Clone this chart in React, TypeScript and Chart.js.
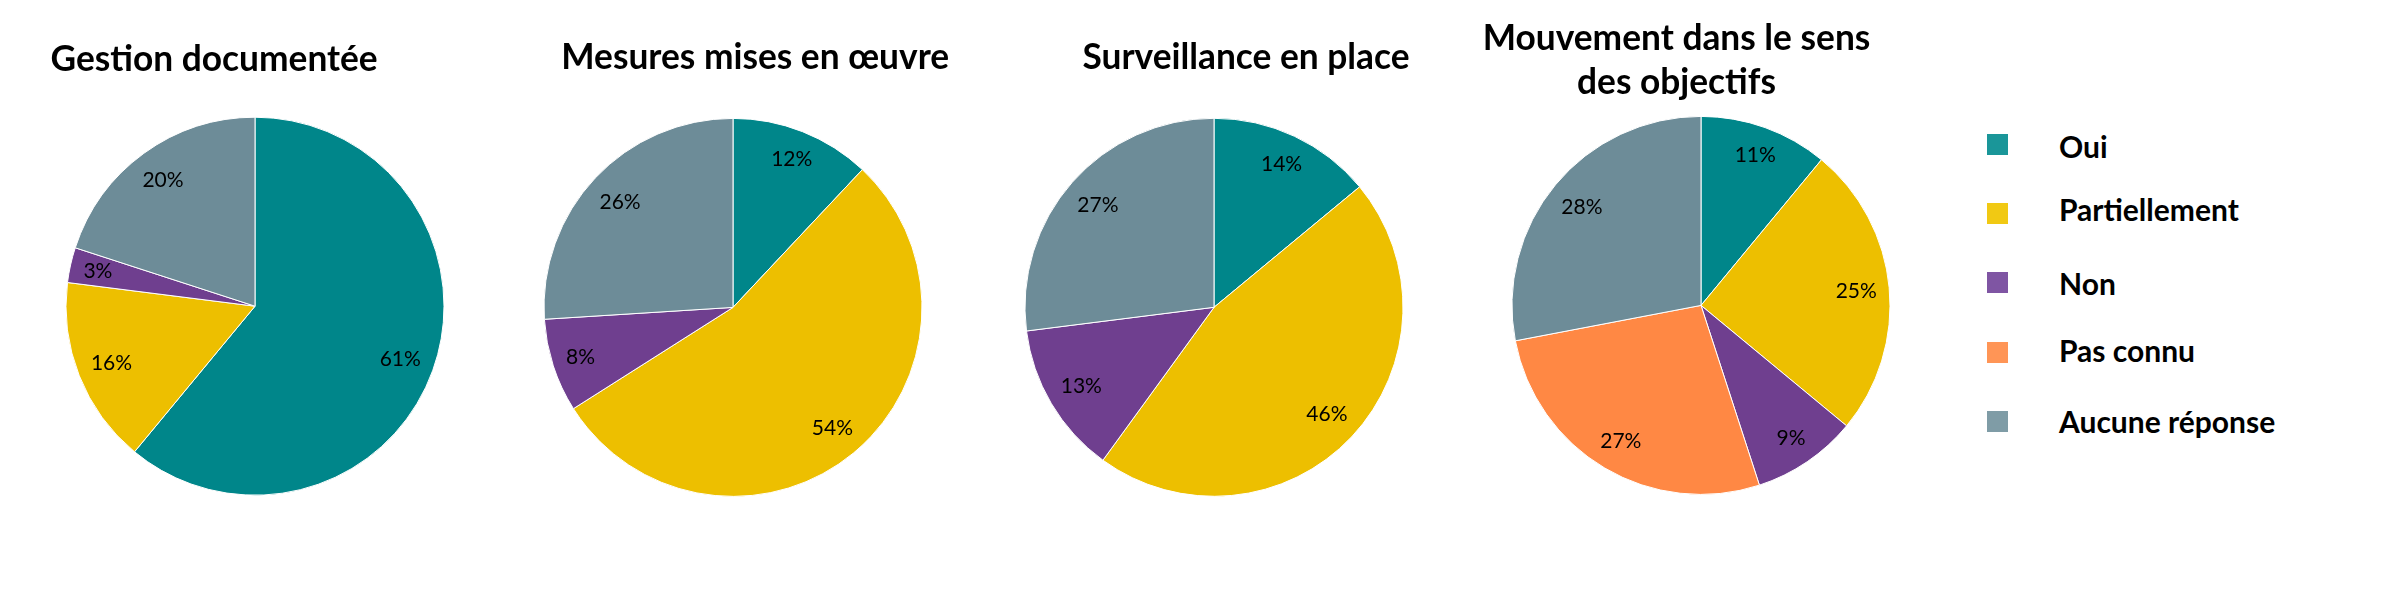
import React, { useEffect, useRef } from "react";
import { Chart, registerables } from "chart.js";

Chart.register(...registerables);

// ---- data ----
const categories = ["Oui", "Partiellement", "Non", "Pas connu", "Aucune réponse"];
const sliceColors = ["#00868A", "#EDBF00", "#6F3F8F", "#FF8844", "#6D8C98"];
const legendColors = ["#1A9699", "#F1C913", "#7F55A3", "#FF9556", "#7F9CA6"];

const gestionTitle = ["Gestion documentée"];
const mesuresTitle = ["Mesures mises en œuvre"];
const surveillanceTitle = ["Surveillance en place"];
const mouvementTitle = ["Mouvement dans le sens", "des objectifs"];

const gestionValues = [61, 16, 3, 0, 20];
const mesuresValues = [12, 54, 8, 0, 26];
const surveillanceValues = [14, 46, 13, 0, 27];
const mouvementValues = [11, 25, 9, 27, 28];

// ---- layout ----
const W = 2399;
const H = 602;
const PW = 440; // panel width
const R = 189.5; // half of chart area side

const panels = [
  { values: gestionValues, title: gestionTitle, cx: 255, cy: 306.2, titleCx: 214.1, baseline: 70.8, font: 35.3, lh: 45 },
  { values: mesuresValues, title: mesuresTitle, cx: 732.6, cy: 307.4, titleCx: 755.2, baseline: 68.9, font: 35.3, lh: 45 },
  { values: surveillanceValues, title: surveillanceTitle, cx: 1213.5, cy: 307.3, titleCx: 1246, baseline: 69.1, font: 35.3, lh: 45 },
  { values: mouvementValues, title: mouvementTitle, cx: 1701.3, cy: 305.4, titleCx: 1676.5, baseline: 50.7, font: 35.3, lh: 43.6 },
];

const legendSquareTop = [134, 203, 272, 342, 411];
const legendBaseline = [158, 220.7, 294.3, 361.7, 432.7];

const pctLabels = {
  id: "pctLabels",
  afterDatasetsDraw(chart: any) {
    const ctx = chart.ctx;
    const meta = chart.getDatasetMeta(0);
    const data = chart.data.datasets[0].data as number[];
    ctx.save();
    ctx.font = "21px Lato";
    ctx.fillStyle = "#000000";
    ctx.textAlign = "center";
    ctx.textBaseline = "middle";
    meta.data.forEach((arc: any, i: number) => {
      const v = data[i];
      if (!v) return;
      const p = arc.getProps(["x", "y", "startAngle", "endAngle", "outerRadius"], true);
      const mid = (p.startAngle + p.endAngle) / 2;
      const ux = Math.cos(mid);
      const uy = Math.sin(mid);
      const text = v + "%";
      const hw = ctx.measureText(text).width / 2;
      const hh = 11;
      const d = p.outerRadius - 11.5 - (Math.abs(ux) * hw + Math.abs(uy) * hh);
      ctx.fillText(text, p.x + ux * d, p.y + uy * d + 0.5);
    });
    ctx.restore();
  },
};

function PiePanel({ p }: { p: any }) {
  const ref = useRef<HTMLCanvasElement | null>(null);
  useEffect(() => {
    if (!ref.current) return;
    const chart = new Chart(ref.current, {
      type: "pie",
      data: {
        labels: categories,
        datasets: [
          {
            data: p.values,
            backgroundColor: sliceColors,
            borderColor: "#ffffff",
            borderWidth: 1,
            hoverOffset: 0,
            offset: 0,
          },
        ],
      },
      options: {
        responsive: false,
        maintainAspectRatio: false,
        animation: false,
        events: [],
        layout: {
          padding: {
            left: PW / 2 - R,
            right: PW / 2 - R,
            top: p.cy - R,
            bottom: H - p.cy - R,
          },
        },
        plugins: {
          legend: { display: false },
          tooltip: { enabled: false },
          title: { display: false },
        },
      } as any,
      plugins: [pctLabels as any],
    });
    return () => chart.destroy();
  }, []);

  const titleTop = p.baseline - ((p.lh - 1.2 * p.font) / 2 + 0.987 * p.font);

  return (
    <div
      style={{
        position: "absolute",
        left: p.cx - PW / 2,
        top: 0,
        width: PW,
        height: H,
      }}
    >
      <canvas ref={ref} width={PW} height={H} style={{ position: "absolute", left: 0, top: 0 }} />
      <div
        style={{
          position: "absolute",
          left: PW / 2 + (p.titleCx - p.cx) - 300,
          width: 600,
          top: titleTop,
          textAlign: "center",
          fontFamily: "Lato",
          fontWeight: 700,
          fontSize: p.font + "px",
          lineHeight: p.lh + "px",
          whiteSpace: "nowrap",
          color: "#000",
        }}
      >
        {p.title.map((t: string, i: number) => (
          <div key={i}>{t}</div>
        ))}
      </div>
    </div>
  );
}

export default function App() {
  const LEG_FONT = 30;
  return (
    <div
      style={{
        position: "absolute",
        left: 0,
        top: 0,
        width: W,
        height: H,
        background: "#ffffff",
        overflow: "hidden",
      }}
    >
      {panels.map((p, i) => (
        <PiePanel key={i} p={p} />
      ))}
      {categories.map((c, i) => (
        <React.Fragment key={c}>
          <div
            style={{
              position: "absolute",
              left: 1987,
              top: legendSquareTop[i],
              width: 21,
              height: 21,
              background: legendColors[i],
            }}
          />
          <div
            style={{
              position: "absolute",
              left: 2059,
              top: legendBaseline[i] - 0.887 * LEG_FONT,
              fontFamily: "Lato",
              fontWeight: 700,
              fontSize: LEG_FONT + "px",
              lineHeight: LEG_FONT + "px",
              whiteSpace: "nowrap",
              color: "#000",
            }}
          >
            {c}
          </div>
        </React.Fragment>
      ))}
    </div>
  );
}
